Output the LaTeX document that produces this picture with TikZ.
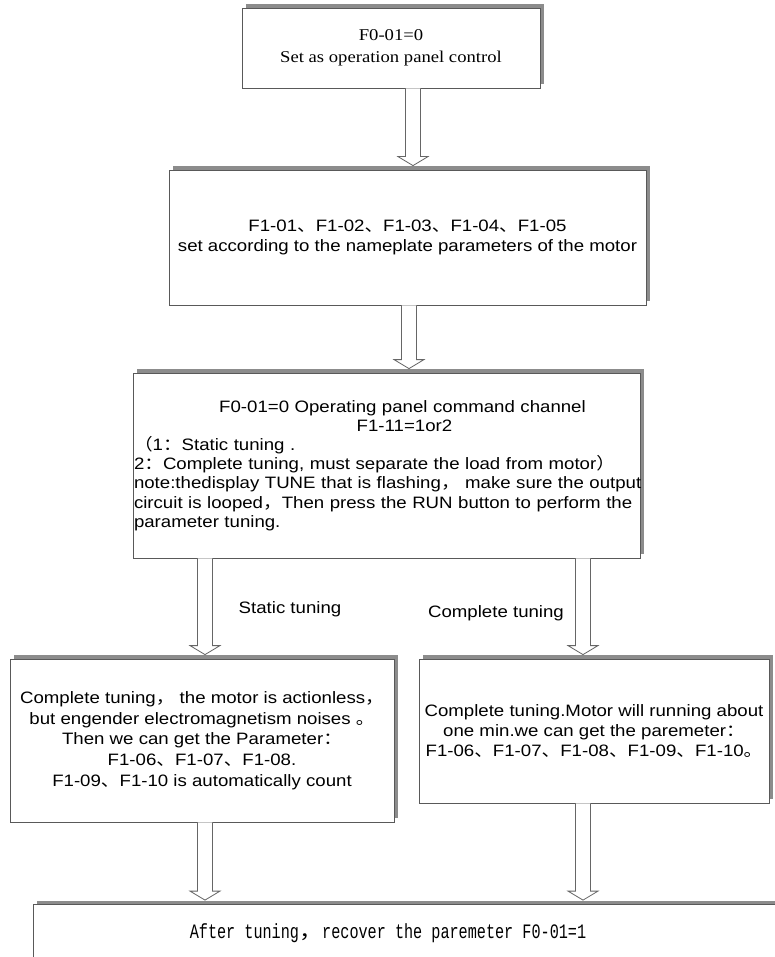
\documentclass[tikz,border=0pt]{standalone}
\usepackage{fontspec}
\setmainfont{Liberation Sans}[FakeStretch=1.13]
\newfontfamily\timesfont{Liberation Serif}[FakeStretch=1.13]
\newfontfamily\cjkfont{Noto Sans CJK SC}[FakeStretch=1.13]
\newfontfamily\songmono{Liberation Mono}[FakeStretch=0.74]
\usepackage{tikz}
\usetikzlibrary{calc, shadows}

% full-width punctuation
\newcommand{\zh}[1]{{\cjkfont #1}}
% body text size of the boxes
\newcommand{\boxfont}{\fontsize{16.5}{20}\selectfont}

% hollow down arrow: #1 from node, #2 to node, #3 column coordinate
\newcommand{\hollowdown}[3]{%
  \draw[harrow] let \p1=(#3 |- #1.south), \p2=(#3 |- #2.north) in
    (\x1-7.5pt,\y1) -- (\x1-7.5pt,\y2+13pt) -- (\x1-15pt,\y2+13pt)
    -- (\x1,\y2+4pt) -- (\x1+15pt,\y2+13pt) -- (\x1+7.5pt,\y2+13pt)
    -- (\x1+7.5pt,\y1);}

\begin{document}
\begin{tikzpicture}[
  x=1pt, y=-1pt,
  % framed step with the grey bevel to the upper right
  box/.style={rectangle, draw=black!65, line width=0.8pt, fill=white,
              inner sep=0pt, align=center, font=\boxfont,
              drop shadow={shadow xshift=4pt, shadow yshift=4pt,
                           fill=black!45, opacity=1}},
  harrow/.style={draw=black!60, line width=0.8pt, fill=white},
  lbl/.style={font=\boxfont, inner sep=0pt}
]
\useasboundingbox (0,0) rectangle (775,957);
\clip (0,0) rectangle (775,957);

%% ── columns of the arrows ───────────────────────────────────
\coordinate (c1) at (413,0);
\coordinate (c2) at (409,0);
\coordinate (cl) at (205,0);
\coordinate (cr) at (583,0);

%% ── main line ───────────────────────────────────────────────
\node[box, minimum width=298pt, minimum height=80pt,
      font=\timesfont\fontsize{16.5}{22}\selectfont] (b1) at (391,48)
    {F0-01=0\\Set as operation panel control};
\node[box, minimum width=477pt, minimum height=135pt] (b2) at (407.5,237.5)
    {F1-01\zh{、}F1-02\zh{、}F1-03\zh{、}F1-04\zh{、}F1-05\\
     set according to the nameplate parameters of the motor};
\node[box, minimum width=507pt, minimum height=185pt, text width=505pt,
      align=left, font=\fontsize{16.5}{19.2}\selectfont] (b3) at (386.5,465.5)
    {{\centering \hspace*{32pt}F0-01=0 Operating panel command channel\\
      \hspace*{36pt}F1-11=1or2\par}
     \zh{（}1\zh{：}Static tuning .\\
     2\zh{：}Complete tuning, must separate the load from motor\zh{）}\\
     \mbox{note:thedisplay TUNE that is flashing\zh{，} make sure the output}\\
     \mbox{circuit is looped\zh{，}Then press the RUN button to perform the}\\
     parameter tuning.};

\hollowdown{b1}{b2}{c1}
\hollowdown{b2}{b3}{c2}

%% ── two ways of tuning ──────────────────────────────────────
\node[box, minimum width=384pt, minimum height=163pt,
      font=\fontsize{16.5}{20.7}\selectfont] (b4) at (202,740.5)
    {Complete tuning\zh{，} the motor is actionless\zh{，}\\
     but engender electromagnetism noises \zh{。}\\
     Then we can get the Parameter\zh{：}\\
     F1-06\zh{、}F1-07\zh{、}F1-08.\\
     F1-09\zh{、}F1-10 is automatically count};
\node[box, minimum width=350pt, minimum height=144pt] (b5) at (594,731)
    {Complete tuning.Motor will running about\\
     one min.we can get the paremeter\zh{：}\\
     F1-06\zh{、}F1-07\zh{、}F1-08\zh{、}F1-09\zh{、}F1-10\zh{。}};

\hollowdown{b3}{b4}{cl}
\hollowdown{b3}{b5}{cr}
\node[lbl] (lst) at (290,609) {Static tuning};
\node[lbl] (lct) at (496,613) {Complete tuning};

%% ── last step (runs off the page) ───────────────────────────
\node[box, minimum width=767pt, minimum height=85pt] (b6) at (416.5,947) {};
\node[font=\songmono\fontsize{20.5}{22}\selectfont, inner sep=0pt] (t6)
    at (388,933) {After tuning\zh{，}recover the paremeter F0-01=1};

\hollowdown{b4}{b6}{cl}
\hollowdown{b5}{b6}{cr}

\end{tikzpicture}
\end{document}
